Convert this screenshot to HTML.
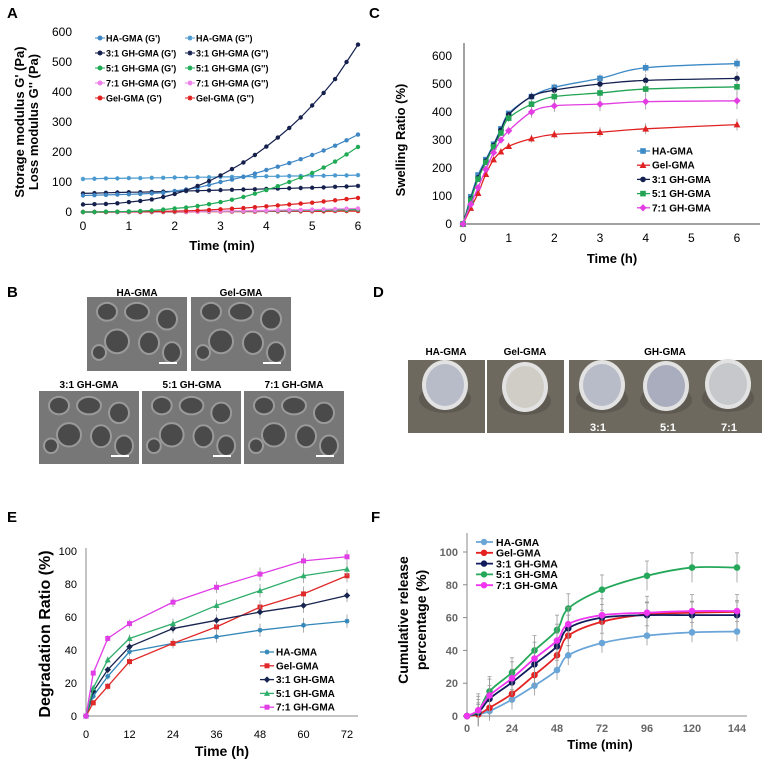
<!DOCTYPE html>
<html><head><meta charset="utf-8"><style>
html,body{margin:0;padding:0;background:#fff;}
svg{display:block;font-family:"Liberation Sans",Arial,sans-serif;}
</style></head><body>
<svg id="fig" width="771" height="764" viewBox="0 0 771 764" xmlns="http://www.w3.org/2000/svg">
<g font-weight="bold" font-size="15" fill="#000">
<text x="7" y="18">A</text>
<text x="369" y="18">C</text>
<text x="7" y="297">B</text>
<text x="373" y="297">D</text>
<text x="7" y="522">E</text>
<text x="371" y="522">F</text>
</g>
<g id="panelB" font-weight="bold" font-size="10" text-anchor="middle">
<text x="137" y="296">HA-GMA</text>
<text x="241" y="296">Gel-GMA</text>
<text x="89" y="388">3:1 GH-GMA</text>
<text x="192" y="388">5:1 GH-GMA</text>
<text x="294" y="388">7:1 GH-GMA</text>
</g>
<g id="panelD" font-weight="bold" font-size="10" text-anchor="middle">
<text x="446" y="355">HA-GMA</text>
<text x="525" y="355">Gel-GMA</text>
<text x="665" y="355">GH-GMA</text>
</g>
<g id="A"></g><g id="C"></g><g id="E"></g><g id="F"></g>
</svg>
<script>
// ---------- Panel A data ----------
const aTimes = [0,0.25,0.5,0.75,1,1.25,1.5,1.75,2,2.25,2.5,2.75,3,3.25,3.5,3.75,4,4.25,4.5,4.75,5,5.25,5.5,5.75,6];
const aSeriesNames = ["HA-GMA (G')","HA-GMA (G'')","3:1 GH-GMA (G')","3:1 GH-GMA (G'')","5:1 GH-GMA (G')","5:1 GH-GMA (G'')","7:1 GH-GMA (G')","7:1 GH-GMA (G'')","Gel-GMA (G')","Gel-GMA (G'')"];
const aHAg1 = [55,56,57,58,59,60,62,64,70,75,81,90,100,108,117,128,140,151,163,176,190,205,221,239,258];
const aHAg2 = [110,111,112,112,113,113,114,114,115,115,116,116,117,117,118,118,119,119,120,120,121,121,122,122,123];
const a31g1 = [25,26,27,29,33,37,42,50,60,72,87,103,122,143,165,190,218,248,280,315,355,397,443,500,558];
const a31g2 = [62,63,64,65,66,66,67,68,69,70,71,72,73,74,75,76,77,78,79,80,81,82,84,85,87];
const a51g1 = [0,0,1,1,2,3,5,8,12,15,20,26,33,41,50,61,73,86,100,115,130,148,168,192,217];
const a51g2 = [0,0,0,0,0,1,1,1,1,2,2,2,3,3,3,4,4,4,5,5,6,6,7,7,8];
const a71g1 = [0,0,0,0,0,1,1,1,2,2,2,3,3,4,4,5,5,6,7,7,8,9,10,11,12];
const a71g2 = [0,0,0,0,0,0,1,1,1,1,1,2,2,2,3,3,3,4,4,5,5,6,6,7,8];
const aGelg1 = [0,0,0,1,1,1,2,2,3,4,5,7,9,11,13,16,19,22,25,28,31,35,39,43,47];
const aGelg2 = [0,0,0,0,0,0,0,0,0,0,1,1,1,1,1,1,2,2,2,2,2,2,3,3,3];
const aYTicks = [0,100,200,300,400,500,600];
const aXTicks = [0,1,2,3,4,5,6];
// ---------- Panel C data ----------
const cTimes = [0,0.17,0.33,0.5,0.67,0.83,1,1.5,2,3,4,6];
const cNames = ["HA-GMA","Gel-GMA","3:1 GH-GMA","5:1 GH-GMA","7:1 GH-GMA"];
const cHA = [0,97,175,230,285,340,395,455,488,520,558,573];
const cGel = [0,57,110,178,230,258,278,305,320,328,340,355];
const c31 = [0,90,165,225,280,335,390,455,478,500,513,520];
const c51 = [0,85,160,220,275,325,378,428,455,468,482,490];
const c71 = [0,70,130,195,255,300,333,400,422,428,437,440];
const cErr = [0,8,10,10,12,12,15,20,22,25,28,30];
const cYTicks = [0,100,200,300,400,500,600];
const cXTicks = [0,1,2,3,4,5,6];
// ---------- Panel E data ----------
const eTimes = [0,2,6,12,24,36,48,60,72];
const eNames = ["HA-GMA","Gel-GMA","3:1 GH-GMA","5:1 GH-GMA","7:1 GH-GMA"];
const eHA = [0,12,24,39,44,48,52,55,57.5];
const eGel = [0,8,18,33,44,54,66,74,85];
const e31 = [0,15,28,42,53,58,63,67,73];
const e51 = [0,17,34,47,56,67,76,85,89];
const e71 = [0,26,47,56,69,78,86,94,96.5];
const eErr = [0,1.5,2,2.5,3,3.5,4,4.5,4];
const eYTicks = [0,20,40,60,80,100];
const eXTicks = [0,12,24,36,48,60,72];
// ---------- Panel F data ----------
const fTimes = [0,6,12,24,36,48,54,72,96,120,144];
const fNames = ["HA-GMA","Gel-GMA","3:1 GH-GMA","5:1 GH-GMA","7:1 GH-GMA"];
const fHA = [0,1,3,10,18.5,28,37,44.5,49,51,51.5];
const fGel = [0,1,5,13.5,25,37,49,57.5,62,63,63.5];
const f31 = [0,2,10.5,20.5,31.5,42.5,53.5,60,61.5,61.5,61.5];
const f51 = [0,3,15,26.5,40,52.5,65.5,77,85.5,90.5,90.5];
const f71 = [0,3.5,12.5,23,35,46,56,61.5,63,64,64];
const fErr = [0,10,10,10,10,10,10,10,10,10,10];
const fYTicks = [0,20,40,60,80,100];
const fXTicks = [0,24,48,72,96,120,144];

const NS = "http://www.w3.org/2000/svg";
function mk(tag, attrs, parent){const e=document.createElementNS(NS,tag);for(const k in attrs)e.setAttribute(k,attrs[k]);parent.appendChild(e);return e;}
function txt(parent,x,y,s,attrs){const e=mk('text',Object.assign({x:x,y:y},attrs||{}),parent);e.textContent=s;return e;}
function smoothPath(pts){
  let d='M'+pts[0][0]+','+pts[0][1];
  for(let i=0;i<pts.length-1;i++){
    const p0=pts[Math.max(0,i-1)],p1=pts[i],p2=pts[i+1],p3=pts[Math.min(pts.length-1,i+2)];
    const c1x=p1[0]+(p2[0]-p0[0])/6,c1y=p1[1]+(p2[1]-p0[1])/6;
    const c2x=p2[0]-(p3[0]-p1[0])/6,c2y=p2[1]-(p3[1]-p1[1])/6;
    d+=' C'+c1x+','+c1y+' '+c2x+','+c2y+' '+p2[0]+','+p2[1];
  }
  return d;
}
function linePath(pts){return pts.map((p,i)=>(i?'L':'M')+p[0]+','+p[1]).join(' ');}
function marker(g,shape,x,y,s,color){
  if(shape==='circle')return mk('circle',{cx:x,cy:y,r:s,fill:color},g);
  if(shape==='square')return mk('rect',{x:x-s,y:y-s,width:2*s,height:2*s,fill:color},g);
  if(shape==='diamond')return mk('path',{d:`M${x},${y-s*1.3}L${x+s*1.3},${y}L${x},${y+s*1.3}L${x-s*1.3},${y}Z`,fill:color},g);
  if(shape==='triangle')return mk('path',{d:`M${x},${y-s*1.3}L${x+s*1.2},${y+s}L${x-s*1.2},${y+s}Z`,fill:color},g);
  return mk('path',{d:`M${x-s},${y}L${x+s},${y}M${x},${y-s}L${x},${y+s}M${x-s*0.7},${y-s*0.7}L${x+s*0.7},${y+s*0.7}M${x+s*0.7},${y-s*0.7}L${x-s*0.7},${y+s*0.7}`,stroke:color,'stroke-width':1.3,fill:'none'},g);
}

// ---------- Panel B/D images (decorative) ----------
(function(){
  const gB=document.getElementById('panelB');
  const sem=[[87,297,100,74],[191,297,100,74],[39,391,100,73],[142,391,99,73],[244,391,100,73]];
  sem.forEach((r,i)=>{
    const im=mk('rect',{x:r[0],y:r[1],width:r[2],height:r[3],fill:'#777'},gB);
    
    
    const holes=[[0.2,0.2,0.1,0.12],[0.5,0.2,0.12,0.12],[0.8,0.3,0.1,0.14],[0.3,0.6,0.12,0.16],[0.62,0.62,0.1,0.15],[0.12,0.75,0.07,0.1],[0.85,0.75,0.09,0.14]];
    holes.forEach(h=>mk('ellipse',{cx:r[0]+h[0]*r[2],cy:r[1]+h[1]*r[3],rx:h[2]*r[2],ry:h[3]*r[3],fill:'#4a4a4a',stroke:'#9a9a9a','stroke-width':2},gB));
    mk('rect',{x:r[0]+r[2]-28,y:r[1]+r[3]-9,width:18,height:2,fill:'#fff'},gB);
  });
  const gD=document.getElementById('panelD');
  const ph=[[408,360,77,73],[487,360,77,73],[569,360,193,73]];
  ph.forEach((r,i)=>{
    const im=mk('rect',{x:r[0],y:r[1],width:r[2],height:r[3],fill:'#6d695f'},gD);
    
    
  });
  [[445,385,'#b8bcc8'],[525,387,'#cfcdc6'],[602,385,'#b8bcc8'],[666,386,'#a9adbd'],[728,384,'#c6c8cc']].forEach(c=>{
    mk('ellipse',{cx:c[0],cy:c[1]+14,rx:26,ry:14,fill:'#5e5a52'},gD);
    mk('ellipse',{cx:c[0],cy:c[1],rx:23,ry:25,fill:'#e2e2e2'},gD);
    mk('ellipse',{cx:c[0],cy:c[1],rx:19,ry:21,fill:c[2]},gD);
  });
  [['3:1',598],['5:1',668],['7:1',729]].forEach(l=>{const t=txt(gD,l[1],431,l[0],{fill:'#fff','font-size':11});});
})();

// ---------- Panel A ----------
(function(){
  const g=document.getElementById('A');
  
  
  const ax=t=>83+t*(275/6), ay=v=>212-v*(180/600);
  aYTicks.forEach(v=>{const t=txt(g,72,ay(v)+4,String(v),{'text-anchor':'end','font-size':12});});
  aXTicks.forEach(v=>{const t=txt(g,ax(v),230,String(v),{'text-anchor':'middle','font-size':12});});
  const xt=txt(g,222,250,'Time (min)',{'text-anchor':'middle','font-size':13,'font-weight':'bold'});
  
  const y1=txt(g,0,0,"Storage modulus G' (Pa)",{'text-anchor':'middle','font-size':13,'font-weight':'bold',transform:'translate(24,122) rotate(-90)'});
  
  const y2=txt(g,0,0,"Loss modulus G'' (Pa)",{'text-anchor':'middle','font-size':13,'font-weight':'bold',transform:'translate(38,122) rotate(-90)'});
  
  const series=[[aHAg1,'#3e86c4','circle'],[aHAg2,'#4a9ad0','star'],[a31g1,'#15204d','circle'],[a31g2,'#15204d','star'],[a51g1,'#1faa55','circle'],[a51g2,'#1faa55','star'],[a71g1,'#ee7ee8','circle'],[a71g2,'#ee7ee8','star'],[aGelg1,'#e02020','circle'],[aGelg2,'#e02020','star']];
  [9,7,5,6,8,1,3,4,0,2].forEach(i=>{
    const s=series[i];
    const sg=mk('g',{},g);
    
    
    const pts=aTimes.map((t,j)=>[ax(t),ay(s[0][j])]);
    mk('path',{d:linePath(pts),stroke:s[1],'stroke-width':1.2,fill:'none'},sg);
    pts.forEach(p=>marker(sg,s[2],p[0],p[1],2.2,s[1]));
  });
  const lg=mk('g',{'font-size':9,'font-weight':'bold'},g);
  
  aSeriesNames.forEach((n,i)=>{
    const col=i%2,row=Math.floor(i/2);
    const x=col?190:100,y=38+row*15;
    const s=series[i];
    mk('line',{x1:x-5,y1:y,x2:x+5,y2:y,stroke:s[1],'stroke-width':1},lg);
    marker(lg,s[2],x,y,2.5,s[1]);
    const t=txt(lg,x+6,y+3.5,n,{});
    
  });
})();

// ---------- Panel C ----------
(function(){
  const g=document.getElementById('C');
  
  
  const ax=t=>463+t*(274/6), ay=v=>224-v*(168/600);
  mk('line',{x1:464,y1:43,x2:464,y2:224,stroke:'#444','stroke-width':1},g);
  mk('line',{x1:464,y1:224,x2:760,y2:224,stroke:'#444','stroke-width':1},g);
  cYTicks.forEach(v=>{const t=txt(g,452,ay(v)+4,String(v),{'text-anchor':'end','font-size':12});});
  cXTicks.forEach(v=>{const t=txt(g,ax(v),242,String(v),{'text-anchor':'middle','font-size':12});});
  const xt=txt(g,612,263,'Time (h)',{'text-anchor':'middle','font-size':13,'font-weight':'bold'});
  
  const yt=txt(g,0,0,'Swelling Ratio (%)',{'text-anchor':'middle','font-size':13,'font-weight':'bold',transform:'translate(405,140) rotate(-90)'});
  
  const series=[[cHA,'#3d8ac6','square'],[cGel,'#e02222','triangle'],[c31,'#14204f','circle'],[c51,'#22a455','square'],[c71,'#e23ee2','diamond']];
  series.forEach((s,i)=>{
    const sg=mk('g',{},g);
    
    
    const pts=cTimes.map((t,j)=>[ax(t),ay(s[0][j])]);
    cTimes.forEach((t,j)=>{const e=cErr[j]*(0.6+0.1*i);mk('line',{x1:ax(t),y1:ay(s[0][j]-e),x2:ax(t),y2:ay(s[0][j]+e),stroke:'#999','stroke-width':0.8},sg);});
    mk('path',{d:smoothPath(pts),stroke:s[1],'stroke-width':1.3,fill:'none'},sg);
    pts.forEach(p=>marker(sg,s[2],p[0],p[1],2.8,s[1]));
  });
  const lg=mk('g',{'font-size':10,'font-weight':'bold'},g);
  
  cNames.forEach((n,i)=>{
    const y=151+i*14.2,s=series[i];
    mk('line',{x1:637,y1:y,x2:650,y2:y,stroke:s[1],'stroke-width':1.3},lg);
    marker(lg,s[2],643,y,2.8,s[1]);
    const t=txt(lg,652,y+3.5,n,{});
    
  });
})();

// ---------- Panel E ----------
(function(){
  const g=document.getElementById('E');
  
  
  const ax=t=>86+t*(261/72), ay=v=>716-v*1.65;
  mk('line',{x1:86,y1:548,x2:86,y2:716,stroke:'#888','stroke-width':1},g);
  mk('line',{x1:86,y1:716,x2:358,y2:716,stroke:'#888','stroke-width':1},g);
  eYTicks.forEach(v=>{const t=txt(g,77,ay(v)+4,String(v),{'text-anchor':'end','font-size':11});});
  eXTicks.forEach(v=>{const t=txt(g,ax(v),738,String(v),{'text-anchor':'middle','font-size':11});});
  const xt=txt(g,222,756,'Time (h)',{'text-anchor':'middle','font-size':14,'font-weight':'bold'});
  
  const yt=txt(g,0,0,'Degradation Ratio (%)',{'text-anchor':'middle','font-size':16,'font-weight':'bold',transform:'translate(50,634) rotate(-90)'});
  
  const series=[[eHA,'#3287b8','star'],[eGel,'#e02a2a','square'],[e31,'#18254f','diamond'],[e51,'#2fae6c','triangle'],[e71,'#e03ee6','square']];
  series.forEach((s,i)=>{
    const sg=mk('g',{},g);
    
    
    const pts=eTimes.map((t,j)=>[ax(t),ay(s[0][j])]);
    eTimes.forEach((t,j)=>{const e=eErr[j];mk('line',{x1:ax(t),y1:ay(s[0][j]-e),x2:ax(t),y2:ay(s[0][j]+e),stroke:'#999','stroke-width':0.8},sg);});
    mk('path',{d:linePath(pts),stroke:s[1],'stroke-width':1.3,fill:'none'},sg);
    pts.forEach(p=>marker(sg,s[2],p[0],p[1],2.5,s[1]));
  });
  const lg=mk('g',{'font-size':10,'font-weight':'bold'},g);
  
  eNames.forEach((n,i)=>{
    const y=652+i*13.8,s=series[i];
    mk('line',{x1:260,y1:y,x2:274,y2:y,stroke:s[1],'stroke-width':1.3},lg);
    marker(lg,s[2],267,y,2.5,s[1]);
    const t=txt(lg,276,y+3.5,n,{});
    
  });
})();

// ---------- Panel F ----------
(function(){
  const g=document.getElementById('F');
  
  
  const ax=t=>467+t*(270/144), ay=v=>716-v*1.64;
  mk('line',{x1:467,y1:533,x2:467,y2:716,stroke:'#888','stroke-width':1},g);
  mk('line',{x1:467,y1:716,x2:747,y2:716,stroke:'#888','stroke-width':1},g);
  fYTicks.forEach(v=>{mk('line',{x1:463,y1:ay(v),x2:467,y2:ay(v),stroke:'#888'},g);const t=txt(g,458,ay(v)+4,String(v),{'text-anchor':'end','font-size':11,'font-weight':'bold',fill:'#666'});});
  fXTicks.forEach(v=>{const t=txt(g,ax(v),732,String(v),{'text-anchor':'middle','font-size':11,'font-weight':'bold',fill:'#666'});});
  const xt=txt(g,600,749,'Time (min)',{'text-anchor':'middle','font-size':13,'font-weight':'bold'});
  
  const y1=txt(g,0,0,'Cumulative release',{'text-anchor':'middle','font-size':14,'font-weight':'bold',transform:'translate(408,620) rotate(-90)'});
  
  const y2=txt(g,0,0,'percentage (%)',{'text-anchor':'middle','font-size':14,'font-weight':'bold',transform:'translate(426,620) rotate(-90)'});
  
  const series=[[fHA,'#6aa5d8'],[fGel,'#e52222'],[f31,'#0f1b5c'],[f51,'#25a85a'],[f71,'#f035f0']];
  series.forEach((s,i)=>{
    const sg=mk('g',{},g);
    
    
    fTimes.forEach((t,j)=>{const e=fErr[j]*(j===0?0.5:(0.6+0.1*i));mk('line',{x1:ax(t),y1:ay(s[0][j]-e),x2:ax(t),y2:ay(s[0][j]+e),stroke:'#999','stroke-width':0.8},sg);mk('line',{x1:ax(t)-2,y1:ay(s[0][j]+e),x2:ax(t)+2,y2:ay(s[0][j]+e),stroke:'#999','stroke-width':0.8},sg);});
    const pts=fTimes.map((t,j)=>[ax(t),ay(s[0][j])]);
    mk('path',{d:smoothPath(pts),stroke:s[1],'stroke-width':1.8,fill:'none'},sg);
    pts.forEach(p=>marker(sg,'circle',p[0],p[1],3.3,s[1]));
  });
  const lg=mk('g',{'font-size':10.5,'font-weight':'bold'},g);
  
  fNames.forEach((n,i)=>{
    const y=542+i*10.8,s=series[i];
    mk('line',{x1:476,y1:y,x2:493,y2:y,stroke:s[1],'stroke-width':1.8},lg);
    marker(lg,'circle',484,y,3.2,s[1]);
    const t=txt(lg,496,y+3.8,n,{});
    
  });
})();
</script>
</body></html>
